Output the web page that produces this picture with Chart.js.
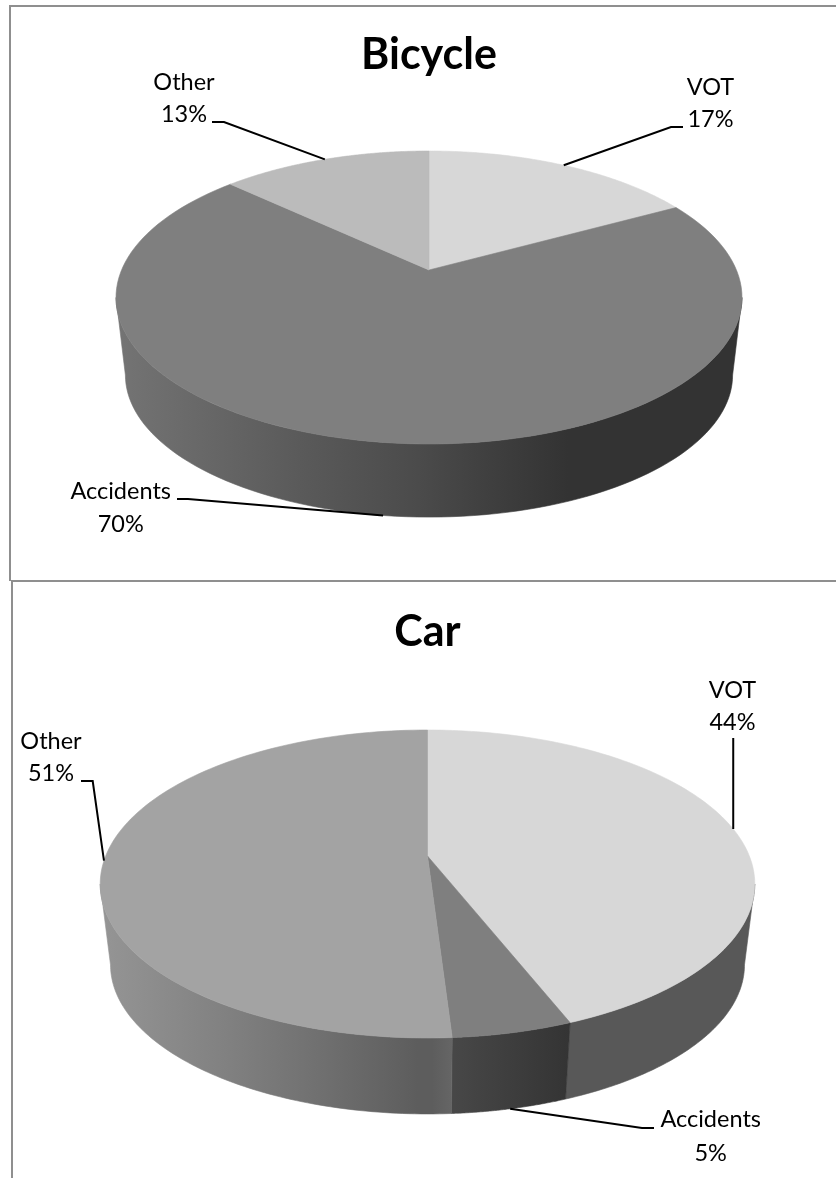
<!DOCTYPE html>
<html>
<head>
<meta charset="utf-8">
<title>Bicycle and Car cost shares</title>
<script src="https://cdn.jsdelivr.net/npm/chart.js@4"></script>
<style>
    html, body { margin: 0; padding: 0; background: #fff; overflow: hidden; }
    #page { position: relative; width: 836px; height: 1178px; }
    canvas { position: absolute; left: 0; display: block; }
    .frame { position: absolute; box-sizing: border-box; border-top: 2px solid #8f8f8f; border-left: 2px solid #8f8f8f; }
</style>
</head>
<body>
<div id="page">
    <div class="frame" style="left:9px; top:5px; width:827px; height:576px;"></div>
    <div class="frame" style="left:11px; top:580px; width:825px; height:598px;"></div>
    <canvas id="bicycle-chart" width="836" height="580" style="top:0"></canvas>
    <canvas id="car-chart" width="836" height="598" style="top:580px"></canvas>
</div>
<script>
// series
let bicycle_labels = ['VOT', 'Accidents', 'Other'];
let bicycle_values = [17, 70, 13];
let car_labels = ['VOT', 'Accidents', 'Other'];
let car_values = [44, 5, 51];

// slice colours, top face
let bicycle_colors = ['#d7d7d7', '#7f7f7f', '#bbbbbb'];
let car_colors = ['#d7d7d7', '#7f7f7f', '#a3a3a3'];

// side wall shading, [x, colour] stops per slice
let bicycle_walls = [
    [[429, '#a0a0a0'], [742, '#a0a0a0']],
    [[116, '#747474'], [300, '#5a5a5a'], [418, '#4b4b4b'], [485, '#404040'], [568, '#333333'], [742, '#333333']],
    [[116, '#8c8c8c'], [429, '#8c8c8c']]
];
let car_walls = [
    [[575, '#585858'], [755, '#585858']],
    [[455, '#474747'], [575, '#333333']],
    [[100, '#959595'], [230, '#808080'], [330, '#6e6e6e'], [418, '#5d5d5d'], [432, '#5d5d5d'], [456, '#676767']]
];

// pie geometry in page pixels
let bicycle_shape = { offset_y: 0, cx: 429, apex_y: 270, top_y: 151, bottom_y: 444, rx: 313, drop: 77.5, base_scale: 0.97 };
let car_shape = { offset_y: 580, cx: 427.5, apex_y: 856, top_y: 730, bottom_y: 1038, rx: 327.3, drop: 80.8, base_scale: 0.9685 };

// label block centre and baselines, leader path after it leaves the pie
let bicycle_notes = [
    { x: 710.5, y1: 95, y2: 127, on_base: false, path: [[671, 127], [683, 127]] },
    { x: 120.7, y1: 499, y2: 532, on_base: true, path: [[188, 499], [177, 499]] },
    { x: 184, y1: 90, y2: 122, on_base: false, path: [[224, 122], [212, 122]] }
];
let car_notes = [
    { x: 732.5, y1: 698, y2: 730, on_base: false, path: [[732, 738]], vertical: true },
    { x: 710.7, y1: 1127, y2: 1160.5, on_base: true, path: [[642, 1128], [654, 1128]] },
    { x: 51, y1: 749, y2: 781, on_base: false, path: [[92.7, 781], [81, 781]] }
];

const label_font = '400 23.5px Lato';

// the disc is tilted with some perspective, so its centre does not sit at the middle of the ellipse
function make_projection(shape) {
    let above = shape.apex_y - shape.top_y;
    let below = shape.bottom_y - shape.apex_y;
    let p = (above - below) / (above + below);
    let t = above * (1 - p);
    let s = shape.rx * Math.sqrt(1 - p * p);
    let mid_y = (shape.top_y + shape.bottom_y) / 2;
    return {
        p: p,
        top: function (a) {
            let w = 1 + p * Math.sin(a);
            return [shape.cx + s * Math.cos(a) / w, shape.apex_y + t * Math.sin(a) / w];
        },
        base: function (a) {
            let q = this.top(a);
            return [shape.cx + (q[0] - shape.cx) * shape.base_scale, mid_y + shape.drop + (q[1] - mid_y) * shape.base_scale];
        }
    };
}

function wall_gradient(ctx, stops) {
    let x0 = stops[0][0];
    let x1 = stops[stops.length - 1][0];
    let g = ctx.createLinearGradient(x0, 0, x1, 0);
    stops.forEach((st) => g.addColorStop((st[0] - x0) / (x1 - x0), st[1]));
    return g;
}

function draw_wall(ctx, proj, start, end, stops) {
    // only the part of the rim between the two side extremes faces the viewer
    let a0 = Math.asin(-proj.p);
    let a1 = Math.PI - a0;
    let from = Math.max(start, a0);
    let to = Math.min(end, a1);
    if (to <= from) return;
    let n = 90;
    ctx.beginPath();
    for (let i = 0; i <= n; i++) {
        let q = proj.top(from + (to - from) * i / n);
        i == 0 ? ctx.moveTo(q[0], q[1]) : ctx.lineTo(q[0], q[1]);
    }
    for (let i = n; i >= 0; i--) {
        let q = proj.base(from + (to - from) * i / n);
        ctx.lineTo(q[0], q[1]);
    }
    ctx.closePath();
    let fill = wall_gradient(ctx, stops);
    ctx.fillStyle = fill;
    ctx.strokeStyle = fill;
    ctx.lineWidth = 0.6;
    ctx.fill();
    ctx.stroke();
}

function draw_face(ctx, proj, shape, start, end, color) {
    let n = 120;
    ctx.beginPath();
    ctx.moveTo(shape.cx, shape.apex_y);
    for (let i = 0; i <= n; i++) {
        let q = proj.top(start + (end - start) * i / n);
        ctx.lineTo(q[0], q[1]);
    }
    ctx.closePath();
    ctx.fillStyle = color;
    ctx.strokeStyle = color;
    ctx.lineWidth = 0.6;
    ctx.fill();
    ctx.stroke();
}

function draw_note(ctx, proj, arc, note, label, value) {
    let mid = (arc.startAngle + arc.endAngle) / 2;
    let q = note.on_base ? proj.base(mid) : proj.top(mid);
    ctx.beginPath();
    ctx.moveTo(q[0], q[1]);
    note.path.forEach((pt) => ctx.lineTo(note.vertical ? q[0] : pt[0], pt[1]));
    ctx.strokeStyle = '#000';
    ctx.lineWidth = 2;
    ctx.stroke();
    ctx.fillStyle = '#000';
    ctx.font = label_font;
    ctx.textAlign = 'center';
    ctx.textBaseline = 'alphabetic';
    ctx.fillText(label, note.x, note.y1);
    ctx.fillText(value + '%', note.x, note.y2);
}

// replaces the flat arcs with an extruded disc, the angles still come from the pie controller
let pie3d_plugin = {
    id: 'pie3d',
    beforeDatasetDraw: function (chart, args, opts) {
        let ctx = chart.ctx;
        let proj = make_projection(opts.shape);
        let arcs = args.meta.data;
        let labels = chart.data.labels;
        let values = chart.data.datasets[0].data;
        ctx.save();
        ctx.translate(0, -opts.shape.offset_y);
        arcs.forEach((arc, i) => draw_wall(ctx, proj, arc.startAngle, arc.endAngle, opts.walls[i]));
        arcs.forEach((arc, i) => draw_face(ctx, proj, opts.shape, arc.startAngle, arc.endAngle, arc.options.backgroundColor));
        arcs.forEach((arc, i) => draw_note(ctx, proj, arc, opts.notes[i], labels[i], values[i]));
        ctx.restore();
        return false;
    }
};

function make_chart(id, title, labels, values, colors, shape, walls, notes, pad_left, pad_top) {
    let ctx = document.getElementById(id);
    return new Chart(ctx, {
        type: 'pie',
        data: {
            labels: labels,
            datasets: [{ data: values, backgroundColor: colors, borderWidth: 0 }],
        },
        options: {
            responsive: false,
            animation: false,
            layout: { padding: { left: pad_left, top: pad_top } },
            plugins: {
                legend: { display: false },
                tooltip: { enabled: false },
                title: {
                    display: true,
                    text: title,
                    color: '#000',
                    font: { family: 'Lato', size: 43, weight: 'bold' },
                    padding: 0,
                },
                pie3d: { shape: shape, walls: walls, notes: notes },
            },
        },
        plugins: [pie3d_plugin],
    });
}

make_chart('bicycle-chart', 'Bicycle', bicycle_labels, bicycle_values, bicycle_colors, bicycle_shape, bicycle_walls, bicycle_notes, 22, 29);
make_chart('car-chart', 'Car', car_labels, car_values, car_colors, car_shape, car_walls, car_notes, 19, 26);
</script>
</body>
</html>
